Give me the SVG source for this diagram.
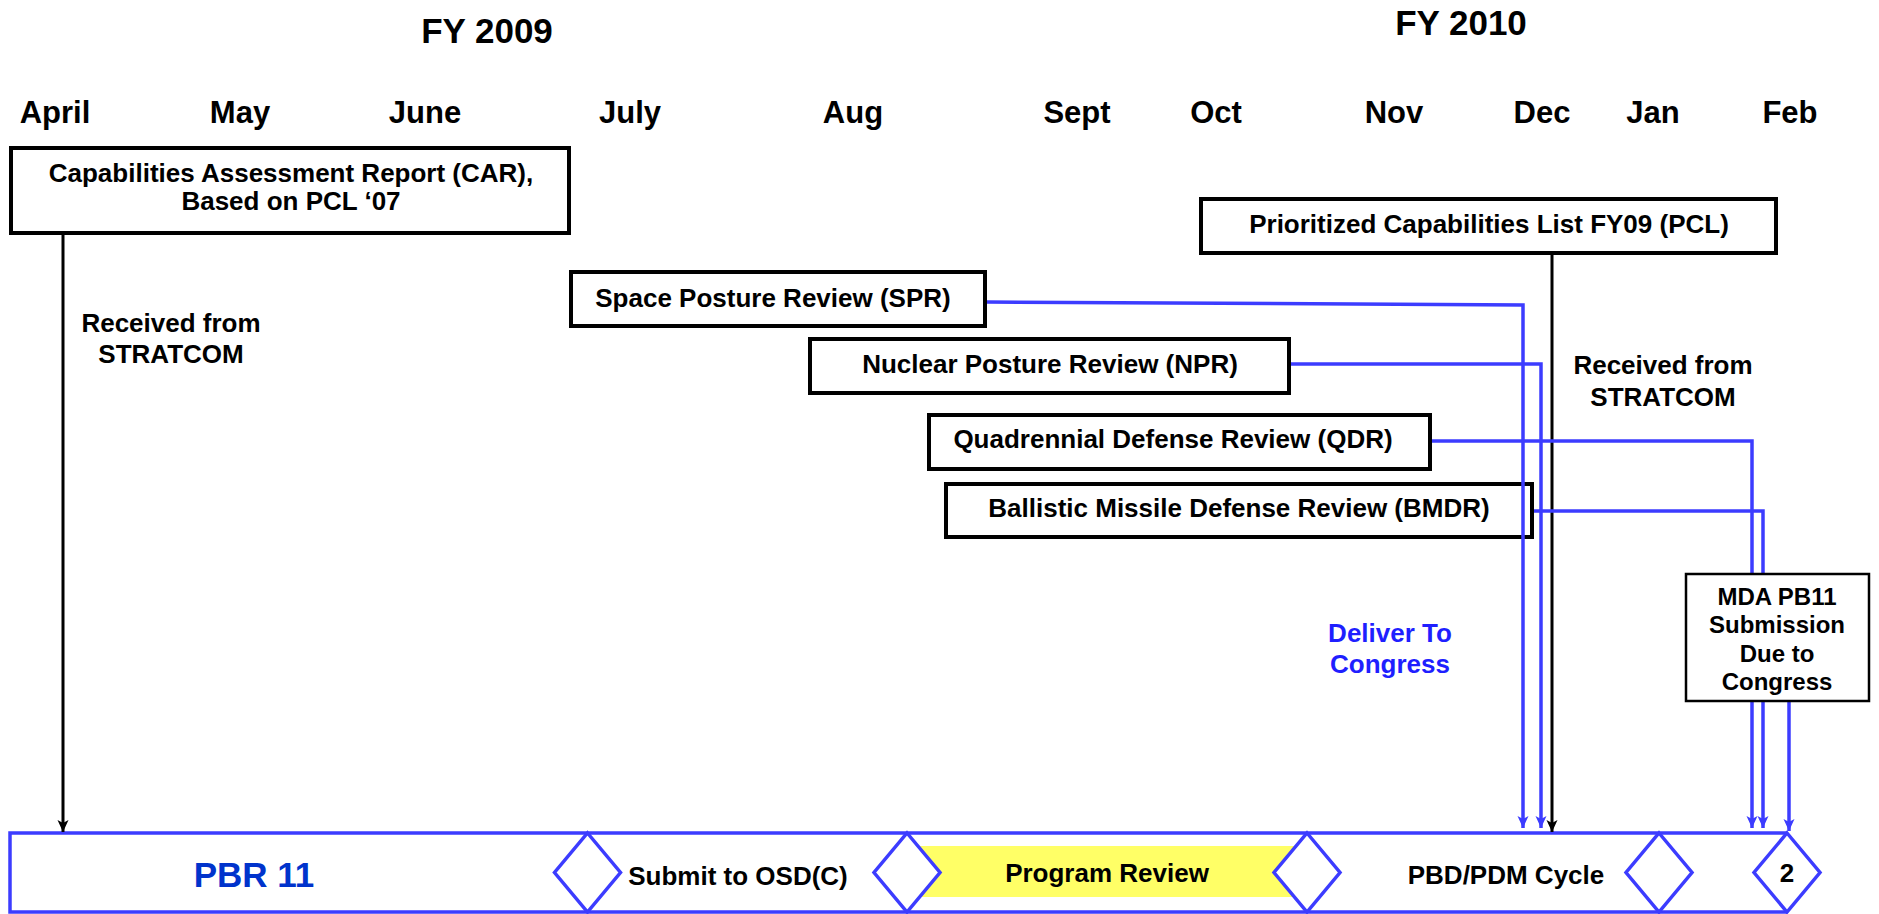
<svg xmlns="http://www.w3.org/2000/svg" width="1879" height="914" viewBox="0 0 1879 914">
<style>
text{font-family:"Liberation Sans",Arial,sans-serif;font-weight:bold;fill:#000;text-anchor:middle}
.fy{font-size:35px}
.mo{font-size:31px}
.lbl{font-size:26px}
.mda{font-size:24px}
.box{fill:#fff;stroke:#000;stroke-width:4}
.blue{fill:none;stroke:#3c3cff;stroke-width:3.5}
.blk{fill:none;stroke:#000;stroke-width:3}
.dia{fill:#fff;stroke:#3c3cff;stroke-width:3.5}
</style>
<defs>
<marker id="ab" viewBox="0 0 12 14" refX="12" refY="7" markerWidth="12" markerHeight="14" markerUnits="userSpaceOnUse" orient="auto"><path d="M0,1.5 L12,7 L0,12.5 L3,7 z" fill="#3c3cff"/></marker>
<marker id="ak" viewBox="0 0 12 14" refX="12" refY="7" markerWidth="12" markerHeight="14" markerUnits="userSpaceOnUse" orient="auto"><path d="M0,1.5 L12,7 L0,12.5 L3,7 z" fill="#000"/></marker>
</defs>
<rect width="1879" height="914" fill="#fff"/>

<g id="headers">
<text class="fy" x="487" y="43">FY 2009</text>
<text class="fy" x="1461" y="35">FY 2010</text>
<text class="mo" x="55" y="123">April</text>
<text class="mo" x="240" y="123">May</text>
<text class="mo" x="425" y="123">June</text>
<text class="mo" x="630" y="123">July</text>
<text class="mo" x="853" y="123">Aug</text>
<text class="mo" x="1077" y="123">Sept</text>
<text class="mo" x="1216" y="123">Oct</text>
<text class="mo" x="1394" y="123">Nov</text>
<text class="mo" x="1542" y="123">Dec</text>
<text class="mo" x="1653" y="123">Jan</text>
<text class="mo" x="1790" y="123">Feb</text>
</g>

<g id="timeline">
<rect x="907" y="846" width="400" height="51" fill="#ffff66"/>
<path d="M1787,833 L10,833 L10,912 L1787,912" fill="none" stroke="#3c3cff" stroke-width="3.5"/>
<text x="254" y="887" style="font-size:35px;fill:#0033cc">PBR 11</text>
<text class="lbl" x="738" y="885">Submit to OSD(C)</text>
<text class="lbl" x="1107" y="882">Program Review</text>
<text class="lbl" x="1506" y="884">PBD/PDM Cycle</text>
</g>

<g id="milestone1"><path class="dia" d="M587.5,833 L620.5,872.5 L587.5,912 L554.5,872.5 z"/></g>
<g id="milestone2"><path class="dia" d="M907,833 L940,872.5 L907,912 L874,872.5 z"/></g>
<g id="milestone3"><path class="dia" d="M1307,833 L1340,872.5 L1307,912 L1274,872.5 z"/></g>
<g id="milestone4"><path class="dia" d="M1659,833 L1692,872.5 L1659,912 L1626,872.5 z"/></g>
<g id="milestone5"><path class="dia" d="M1787,833 L1820,872.5 L1787,912 L1754,872.5 z"/><text class="lbl" x="1787" y="882">2</text></g>

<g id="car">
<rect class="box" x="11" y="148" width="558" height="85"/>
<text class="lbl" x="291" y="182">Capabilities Assessment Report (CAR),</text>
<text class="lbl" x="291" y="210">Based on PCL ‘07</text>
</g>
<g id="received-left">
<text class="lbl" x="171" y="332">Received from</text>
<text class="lbl" x="171" y="363">STRATCOM</text>
</g>
<g id="pcl">
<rect class="box" x="1201" y="199" width="575" height="54"/>
<text class="lbl" x="1489" y="233">Prioritized Capabilities List FY09 (PCL)</text>
</g>
<g id="received-right">
<text class="lbl" x="1663" y="374">Received from</text>
<text class="lbl" x="1663" y="406">STRATCOM</text>
</g>
<g id="spr">
<rect class="box" x="571" y="272" width="414" height="54"/>
<text class="lbl" x="773" y="307">Space Posture Review (SPR)</text>
</g>
<g id="npr">
<rect class="box" x="810" y="339" width="479" height="54"/>
<text class="lbl" x="1050" y="373">Nuclear Posture Review (NPR)</text>
</g>
<g id="qdr">
<rect class="box" x="929" y="415" width="501" height="54"/>
<text class="lbl" x="1173" y="448">Quadrennial Defense Review (QDR)</text>
</g>
<g id="bmdr">
<rect class="box" x="946" y="484" width="586" height="53"/>
<text class="lbl" x="1239" y="517">Ballistic Missile Defense Review (BMDR)</text>
</g>
<g id="deliver">
<text class="lbl" x="1390" y="642" style="fill:#1f1fff">Deliver To</text>
<text class="lbl" x="1390" y="673" style="fill:#1f1fff">Congress</text>
</g>

<g id="connectors">
<path class="blk" d="M63,235 L63,832" marker-end="url(#ak)"/>
<path class="blk" d="M1552,255 L1552,832" marker-end="url(#ak)"/>
<path class="blue" d="M987,302 L1523,305 L1523,828" marker-end="url(#ab)"/>
<path class="blue" d="M1291,364 L1541,364 L1541,828" marker-end="url(#ab)"/>
<path class="blue" d="M1432,441 L1752,441 L1752,828" marker-end="url(#ab)"/>
<path class="blue" d="M1534,511 L1763,511 L1763,828" marker-end="url(#ab)"/>
<path class="blue" d="M1789,702 L1789,831" marker-end="url(#ab)"/>
</g>

<g id="mda">
<rect x="1686" y="574" width="183" height="127" fill="#fff" stroke="#000" stroke-width="2.5"/>
<text class="mda" x="1777" y="605">MDA PB11</text>
<text class="mda" x="1777" y="633">Submission</text>
<text class="mda" x="1777" y="662">Due to</text>
<text class="mda" x="1777" y="690">Congress</text>
</g>
</svg>
